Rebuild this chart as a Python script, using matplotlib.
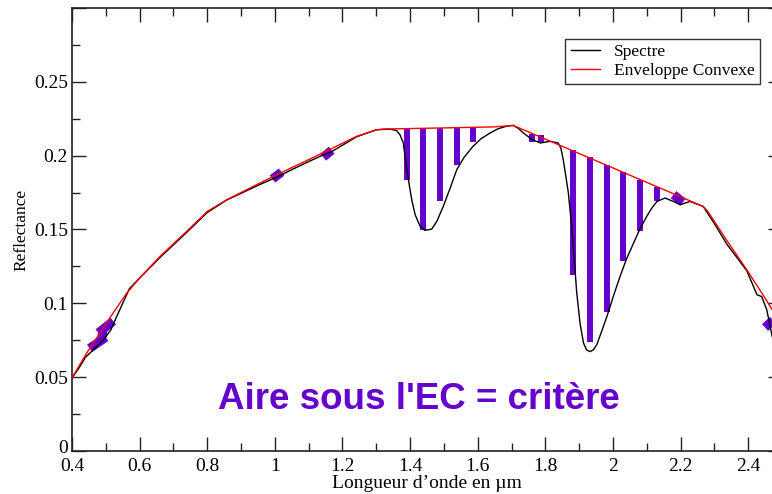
import matplotlib
matplotlib.use("Agg")
import matplotlib.pyplot as plt
import matplotlib.transforms as mtransforms
from matplotlib.ticker import MultipleLocator, FormatStrFormatter, FuncFormatter

# ── data ────────────────────────────────────────────────────────────
env_x = [0.40, 0.443, 0.512, 0.562, 0.601, 0.660, 0.739, 0.800, 0.858, 0.956,
         1.006, 1.143, 1.242, 1.300, 1.320, 1.500, 1.650, 1.705, 2.267, 2.280,
         2.337, 2.396, 2.450, 2.500]
env_y = [0.0495, 0.0662, 0.0902, 0.1070, 0.1173, 0.1317, 0.1487, 0.1622, 0.1702, 0.1815,
         0.1871, 0.2020, 0.2131, 0.2175, 0.2180, 0.2188, 0.2195, 0.2205, 0.1656, 0.1625,
         0.1425, 0.1227, 0.1035, 0.0850]

spec_x = [0.40, 0.42, 0.44, 0.463, 0.493, 0.515, 0.532, 0.552, 0.570, 0.601,
          0.660, 0.739, 0.800, 0.858, 0.956, 1.006, 1.050, 1.100, 1.143, 1.170,
          1.242, 1.300, 1.340, 1.360, 1.370, 1.380, 1.385, 1.395, 1.405, 1.415,
          1.430, 1.444, 1.464, 1.479, 1.498, 1.520, 1.538, 1.560, 1.586, 1.610,
          1.637, 1.660, 1.686, 1.705, 1.720, 1.735, 1.760, 1.785, 1.814, 1.838,
          1.846, 1.853, 1.860, 1.868, 1.878, 1.893, 1.903, 1.913, 1.922, 1.932,
          1.942, 1.952, 1.965, 1.982, 2.000, 2.021, 2.040, 2.061, 2.080, 2.100,
          2.115, 2.130, 2.154, 2.179, 2.199, 2.228, 2.267, 2.300, 2.337, 2.370,
          2.396, 2.426, 2.440, 2.455, 2.471, 2.500]
spec_y = [0.0495, 0.0560, 0.0635, 0.0685, 0.0753, 0.0820, 0.0910, 0.1010, 0.1100, 0.1173,
          0.1310, 0.1480, 0.1615, 0.1700, 0.1805, 0.1855, 0.1905, 0.1960, 0.2005, 0.2030,
          0.2128, 0.2175, 0.2180, 0.2170, 0.2142, 0.2086, 0.1995, 0.1837, 0.1700, 0.1600,
          0.1520, 0.1494, 0.1503, 0.1555, 0.1656, 0.1790, 0.1905, 0.1990, 0.2063, 0.2115,
          0.2154, 0.2182, 0.2200, 0.2205, 0.2185, 0.2154, 0.2110, 0.2086, 0.2097, 0.2086,
          0.2050, 0.1973, 0.1870, 0.1750, 0.1520, 0.1069, 0.0860, 0.0730, 0.0685, 0.0673,
          0.0685, 0.0719, 0.0800, 0.0910, 0.1040, 0.1182, 0.1300, 0.1408, 0.1505, 0.1589,
          0.1645, 0.1690, 0.1713, 0.1690, 0.1668, 0.1690, 0.1656, 0.1540, 0.1400, 0.1300,
          0.1220, 0.1058, 0.1046, 0.0956, 0.0775, 0.0650]

# vertical "area" bars: position, bottom (spectrum), top (envelope)
bar_x = [1.390, 1.439, 1.489, 1.538, 1.587, 1.760, 1.787,
         1.883, 1.932, 1.982, 2.031, 2.081, 2.130]
bar_lo = [0.1837, 0.1494, 0.1690, 0.1939, 0.2090, 0.2093, 0.2090,
          0.1193, 0.0737, 0.0940, 0.1288, 0.1487, 0.1690]
bar_hi = [0.2188, 0.2188, 0.2188, 0.2190, 0.2192, 0.2150, 0.2140,
          0.2040, 0.1989, 0.1939, 0.1890, 0.1837, 0.1788]

# short purple strokes where envelope and spectrum nearly touch
stroke_x = [(0.452, 0.500), (0.489, 0.491), (0.478, 0.522),
            (0.993, 1.020), (1.143, 1.168), (2.179, 2.207), (2.450, 2.475)]
stroke_y = [(0.0695, 0.0770), (0.0772, 0.0815), (0.0800, 0.0880),
            (0.1842, 0.1889), (0.1990, 0.2037), (0.1736, 0.1685), (0.0836, 0.0890)]

PURPLE = "#6600cc"
SERIF = ["Liberation Serif", "DejaVu Serif"]

fig = plt.figure(figsize=(7.72, 4.94), dpi=100)
ax = fig.add_axes([72 / 772, 1 - 451 / 494, 710 / 772, 443 / 494])

for x0, lo, hi in zip(bar_x, bar_lo, bar_hi):
    ax.bar(x0, hi - lo, bottom=lo, width=0.018, color=PURPLE, zorder=1)
for xs, ys in zip(stroke_x, stroke_y):
    ax.plot(xs, ys, color=PURPLE, lw=6.5, solid_capstyle="butt", zorder=1)

ax.plot(spec_x, spec_y, color="black", lw=1.0, label="Spectre", zorder=3)
ax.plot(env_x, env_y, color="red", lw=1.0, label="Enveloppe Convexe", zorder=4)

ax.set_xlim(0.4, 2.5)
ax.set_ylim(0, 0.3)
ax.xaxis.set_major_locator(MultipleLocator(0.2))
ax.xaxis.set_minor_locator(MultipleLocator(0.1))
ax.yaxis.set_major_locator(MultipleLocator(0.05))
ax.yaxis.set_minor_locator(MultipleLocator(0.025))
ax.xaxis.set_major_formatter(FormatStrFormatter("%g"))
ax.yaxis.set_major_formatter(FuncFormatter(lambda v, p: "" if v > 0.26 else f"{v:g}"))
ax.tick_params(which="both", direction="in", top=True, right=True, colors="#222222",
               labelcolor="black", width=1.0)
ax.tick_params(which="major", length=10, labelsize=14)
ax.tick_params(axis="x", which="major", pad=5)
ax.tick_params(axis="y", which="major", pad=3)
ax.tick_params(which="minor", length=5.5)
for lab in ax.get_xticklabels() + ax.get_yticklabels():
    lab.set_family(SERIF)
for sp in ax.spines.values():
    sp.set_color("#222222"); sp.set_linewidth(1.2)

ax.set_xlabel("Longueur d\u2019onde en \u00b5m", family=SERIF, fontsize=14, labelpad=0)
ax.set_ylabel("Reflectance", family=SERIF, fontsize=12.5, labelpad=3)

ax.text(1.427, 0.0346, "Aire sous l'EC = crit\u00e8re", color=PURPLE, fontsize=26.5,
        fontweight="bold", family=["Liberation Sans", "DejaVu Sans"],
        ha="center", va="center")

leg = fig.legend(loc="upper right", bbox_to_anchor=(760 / 772, 1 - 39 / 494),
                 borderaxespad=0, fancybox=False, edgecolor="#333333",
                 prop={"family": SERIF, "size": 12.5}, handlelength=1.7,
                 labelspacing=0.15, borderpad=0.3, framealpha=1)
leg.get_frame().set_linewidth(1.0)

# nudge the "0" label up a touch so it clears "0.4"
fig.canvas.draw()
for t in ax.yaxis.get_major_ticks():
    if abs(t.get_loc()) < 1e-9:
        lab = t.label1
        lab.set_transform(lab.get_transform() +
                          mtransforms.ScaledTranslation(0, 3 / 72, fig.dpi_scale_trans))

plt.savefig("out.png", dpi=100)
